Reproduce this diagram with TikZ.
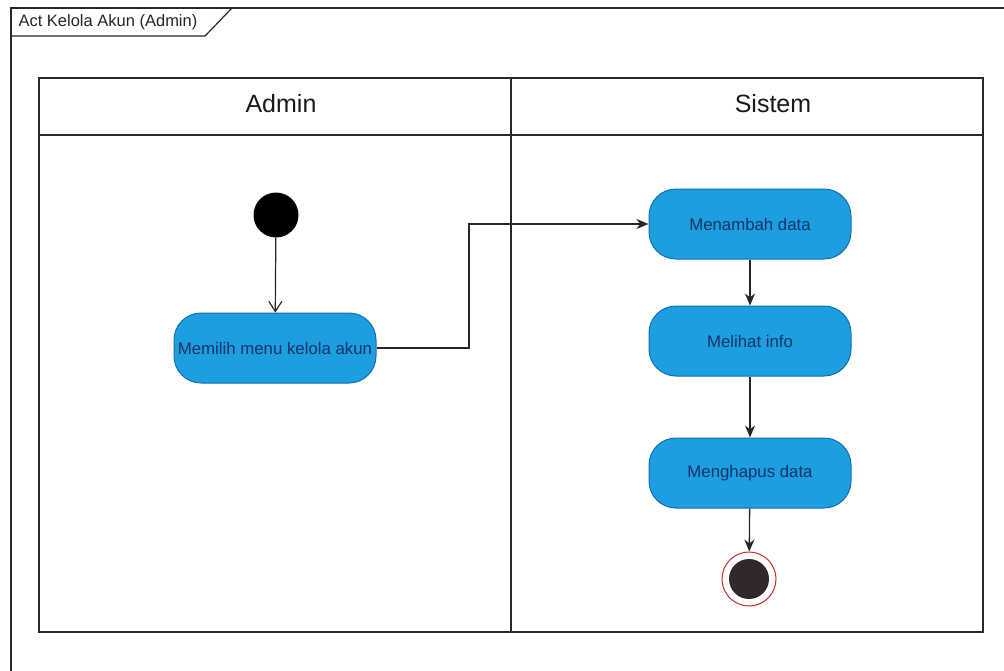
\documentclass[tikz,border=0pt]{standalone}
\usepackage{fontspec}
\setmainfont{Liberation Sans}
\usetikzlibrary{arrows.meta,calc}
\definecolor{actfill}{RGB}{28,158,224}
\definecolor{actline}{RGB}{16,110,175}
\definecolor{acttext}{RGB}{18,52,104}
\definecolor{frameline}{RGB}{40,40,40}
\definecolor{endring}{RGB}{200,40,40}
\definecolor{enddot}{RGB}{48,40,42}
\tikzset{
  frame/.style={draw=frameline, line width=1.2pt},
  act/.style={rectangle, rounded corners=27pt, draw=actline, line width=1pt,
    fill=actfill, text=acttext, minimum width=202pt, minimum height=70pt,
    font=\fontsize{16.8}{19}\selectfont, inner sep=2pt},
  flow/.style={draw=black!85, line width=1.3pt, -{Stealth[length=12pt,width=10pt]}},
  openflow/.style={draw=black!85, line width=1.2pt, -{Straight Barb[length=10pt,width=13pt]}},
  lanehead/.style={font=\fontsize{25}{29}\selectfont, text=black!90},
}
\begin{document}
\begin{tikzpicture}[x=1pt,y=-1pt]
  \useasboundingbox (0,0) rectangle (1004,670);
  \fill[white] (0,0) rectangle (1004,670);
  \clip (0,0) rectangle (1004,670);

  % outer activity frame with its name tab
  \draw[frame] (11,690) -- (11,8) -- (1020,8);
  \draw[frame] (11,36) -- (205,36) -- (232,8);
  \node[anchor=west, font=\fontsize{16.5}{19}\selectfont, text=black!85] (title) at (15,22) {Act Kelola Akun (Admin)};

  % swimlanes
  \draw[frame] (39,78) rectangle (983,632);
  \draw[frame] (39,135) -- (983,135);
  \draw[frame] (511,78) -- (511,632);
  \node[lanehead] (laneA) at (281,104) {Admin};
  \node[lanehead] (laneS) at (773,104) {Sistem};

  % activities
  \node[circle, fill=black, minimum size=45pt, inner sep=0pt] (start) at (276,215) {};
  \node[act] (memilih) at (275,348) {Memilih menu kelola akun};
  \node[act] (menambah) at (750,224) {Menambah data};
  \node[act] (melihat) at (750,341) {Melihat info};
  \node[act] (menghapus) at (750,473) {Menghapus data};
  \node[circle, draw=endring, line width=1pt, fill=white, minimum size=54pt, inner sep=0pt] (finish) at (749,579) {};
  \node[circle, fill=enddot, minimum size=40pt, inner sep=0pt] (finishdot) at (finish.center) {};

  % control flows
  \coordinate (bend) at (469,348);
  \draw[openflow] (start) -- (memilih);
  \draw[flow] (memilih.east) -- (bend) |- (menambah.west);
  \draw[flow] (menambah) -- (melihat);
  \draw[flow] (melihat) -- (menghapus);
  \draw[flow] (menghapus) -- (finish);
\end{tikzpicture}
\end{document}
